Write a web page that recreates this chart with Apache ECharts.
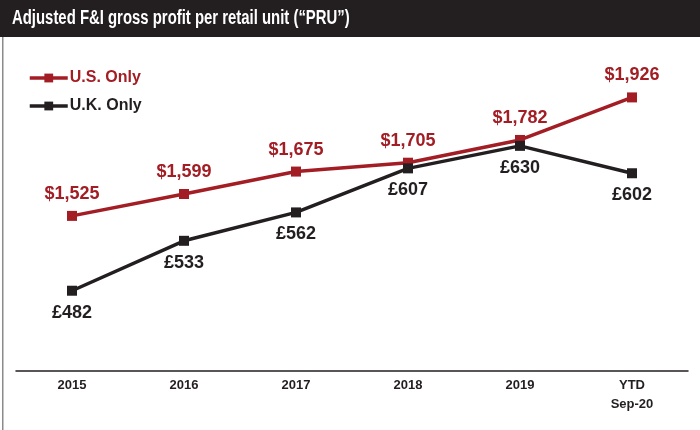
<!DOCTYPE html>
<html>
<head>
<meta charset="utf-8">
<script src="https://cdn.jsdelivr.net/npm/echarts@6/dist/echarts.min.js"></script>
<style>
  html, body { margin: 0; padding: 0; background: #fff; }
  #chart { width: 700px; height: 430px; }
</style>
</head>
<body>
<div id="chart"></div>
<script>
const categories = ["2015", "2016", "2017", "2018", "2019", "YTD\nSep-20"];
const usValues = [1525, 1599, 1675, 1705, 1782, 1926];
const ukValues = [482, 533, 562, 607, 630, 602];

const RED = "#a31d24";
const DARK = "#231f20";
const FONT = "Liberation Sans, Arial, sans-serif";

const myChart = echarts.init(document.getElementById("chart"));

const option = {
  backgroundColor: "#fff",
  animation: false,
  graphic: [
    {
      type: "rect",
      left: 0,
      top: 0,
      shape: { width: 700, height: 37 },
      style: { fill: DARK },
    },
    {
      type: "rect",
      left: 2,
      top: 37,
      shape: { width: 1.5, height: 393 },
      style: { fill: "#8a8a8a" },
    },
    {
      type: "text",
      left: 12,
      top: 8,
      scaleX: 0.745,
      style: {
        text: "Adjusted F&I gross profit per retail unit (\u201cPRU\u201d)",
        fill: "#fff",
        font: "bold 20px " + FONT,
      },
    },
  ],
  legend: {
    left: 28,
    top: 70,
    padding: 0,
    orient: "vertical",
    itemWidth: 38,
    itemHeight: 11,
    itemGap: 12,
    itemStyle: { borderWidth: 0 },
    lineStyle: { width: 3.5 },
    textStyle: { fontFamily: FONT, fontWeight: "bold", fontSize: 16, padding: [0, 0, 0, -3] },
    data: [
      { name: "U.S. Only", textStyle: { color: RED } },
      { name: "U.K. Only", textStyle: { color: DARK } },
    ],
  },
  grid: {
    left: 16,
    right: 12,
    top: 46,
    bottom: 59,
    containLabel: false,
  },
  xAxis: {
    type: "category",
    data: categories,
    boundaryGap: true,
    axisLine: { show: true, lineStyle: { color: DARK, width: 1.5 } },
    axisTick: { show: false },
    axisLabel: {
      color: DARK,
      fontFamily: FONT,
      fontWeight: "bold",
      fontSize: 13,
      lineHeight: 19,
      margin: 5,
      interval: 0,
    },
  },
  yAxis: [
    { type: "value", min: 1000, max: 2100, show: false, splitLine: { show: false } },
    { type: "value", min: 400, max: 732, show: false, splitLine: { show: false } },
  ],
  series: [
    {
      name: "U.S. Only",
      type: "line",
      yAxisIndex: 0,
      data: usValues,
      symbol: "rect",
      symbolSize: 10,
      lineStyle: { color: RED, width: 3.5 },
      itemStyle: { color: RED },
      label: {
        show: true,
        position: "top",
        distance: 8,
        color: RED,
        fontFamily: FONT,
        fontWeight: "bold",
        fontSize: 18,
        formatter: (p) => "$" + p.value.toLocaleString("en-US"),
      },
    },
    {
      name: "U.K. Only",
      type: "line",
      yAxisIndex: 1,
      data: ukValues,
      symbol: "rect",
      symbolSize: 10,
      lineStyle: { color: DARK, width: 3.5 },
      itemStyle: { color: DARK },
      label: {
        show: true,
        position: "bottom",
        distance: 8,
        color: DARK,
        fontFamily: FONT,
        fontWeight: "bold",
        fontSize: 18,
        formatter: (p) => "\u00a3" + p.value,
      },
    },
  ],
};

myChart.setOption(option);
</script>
</body>
</html>
